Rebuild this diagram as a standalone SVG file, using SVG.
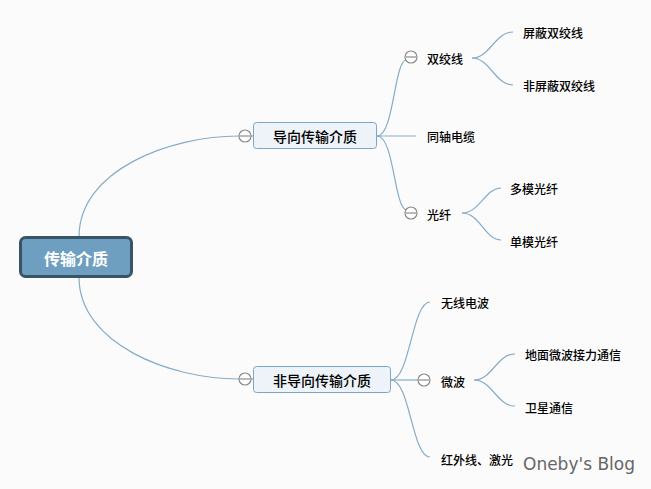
<svg xmlns="http://www.w3.org/2000/svg" width="651" height="489" viewBox="0 0 651 489">
<style>
text{font-family:"Noto Sans CJK SC","Liberation Sans",sans-serif;fill:#000;dominant-baseline:central}
.t{font-size:12px;font-weight:500}
.m{font-size:14px;font-weight:500;text-anchor:middle}
.root{font-size:16px;font-weight:bold;fill:#fff;text-anchor:middle}
.c path{fill:none;stroke:#86acc8;stroke-width:1.2}
.col circle{fill:#fff;stroke:#8a8a8a;stroke-width:1.2}
.col line{stroke:#8a8a8a;stroke-width:1.2}
.box{fill:#edf3f8;stroke:#7aa6c8;stroke-width:1}
</style>
<rect width="651" height="489" fill="#fbfbfb"/>
<g id="connectors" class="c">
<path d="M79,237 C79,170 170,136 239,136"/>
<path d="M79,277 C79,344 170,379 239,379"/>
<path d="M239,136 H253"/>
<path d="M239,379 H253"/>
<path d="M377,136 C394,136 394,62 406,60"/>
<path d="M377,136 H416"/>
<path d="M377,136 C394,136 394,206 406,210"/>
<path d="M472,58 C490,58 495,32 513,32"/>
<path d="M472,58 C490,58 495,85 513,85"/>
<path d="M462,213 C480,213 485,188 501,188"/>
<path d="M462,213 C480,213 485,240 501,240"/>
<path d="M391,380 C410,380 412,302 430,302"/>
<path d="M391,380 H418"/>
<path d="M391,380 C410,380 412,457 430,457"/>
<path d="M474,380 C492,380 497,354 515,354"/>
<path d="M474,380 C492,380 497,406 515,406"/>
</g>
<g id="root">
<rect x="20.5" y="237.5" width="111" height="39" rx="5" fill="#6f9fc0" stroke="#3a5467" stroke-width="3"/>
<text class="root" x="76" y="258">传输介质</text>
</g>
<g id="guided">
<g class="col"><circle cx="245" cy="136" r="6"/><line x1="240" y1="136" x2="250" y2="136"/></g>
<rect class="box" x="253.5" y="122.5" width="123" height="26" rx="3"/>
<text class="m" x="315" y="136">导向传输介质</text>
</g>
<g id="unguided">
<g class="col"><circle cx="245" cy="379" r="6"/><line x1="240" y1="379" x2="250" y2="379"/></g>
<rect class="box" x="253.5" y="366.5" width="137" height="26" rx="3"/>
<text class="m" x="322" y="380">非导向传输介质</text>
</g>
<g id="twisted">
<g class="col"><circle cx="411" cy="57" r="6"/><line x1="406" y1="57" x2="416" y2="57"/></g>
<text class="t" x="427" y="58">双绞线</text>
</g>
<g id="stp"><text class="t" x="523" y="32">屏蔽双绞线</text></g>
<g id="utp"><text class="t" x="523" y="85">非屏蔽双绞线</text></g>
<g id="coax"><text class="t" x="427" y="136">同轴电缆</text></g>
<g id="fiber">
<g class="col"><circle cx="411" cy="213" r="6"/><line x1="406" y1="213" x2="416" y2="213"/></g>
<text class="t" x="427" y="214">光纤</text>
</g>
<g id="mmf"><text class="t" x="510" y="188">多模光纤</text></g>
<g id="smf"><text class="t" x="510" y="241">单模光纤</text></g>
<g id="radio"><text class="t" x="441" y="302">无线电波</text></g>
<g id="microwave">
<g class="col"><circle cx="424" cy="380" r="6"/><line x1="419" y1="380" x2="429" y2="380"/></g>
<text class="t" x="441" y="381">微波</text>
</g>
<g id="ground"><text class="t" x="525" y="354">地面微波接力通信</text></g>
<g id="satellite"><text class="t" x="525" y="407">卫星通信</text></g>
<g id="infrared"><text class="t" x="441" y="459">红外线、激光</text></g>
<text x="523" y="464" style="font-family:'DejaVu Sans','Liberation Sans',sans-serif;font-size:17px;fill:#666">Oneby's Blog</text>
</svg>
